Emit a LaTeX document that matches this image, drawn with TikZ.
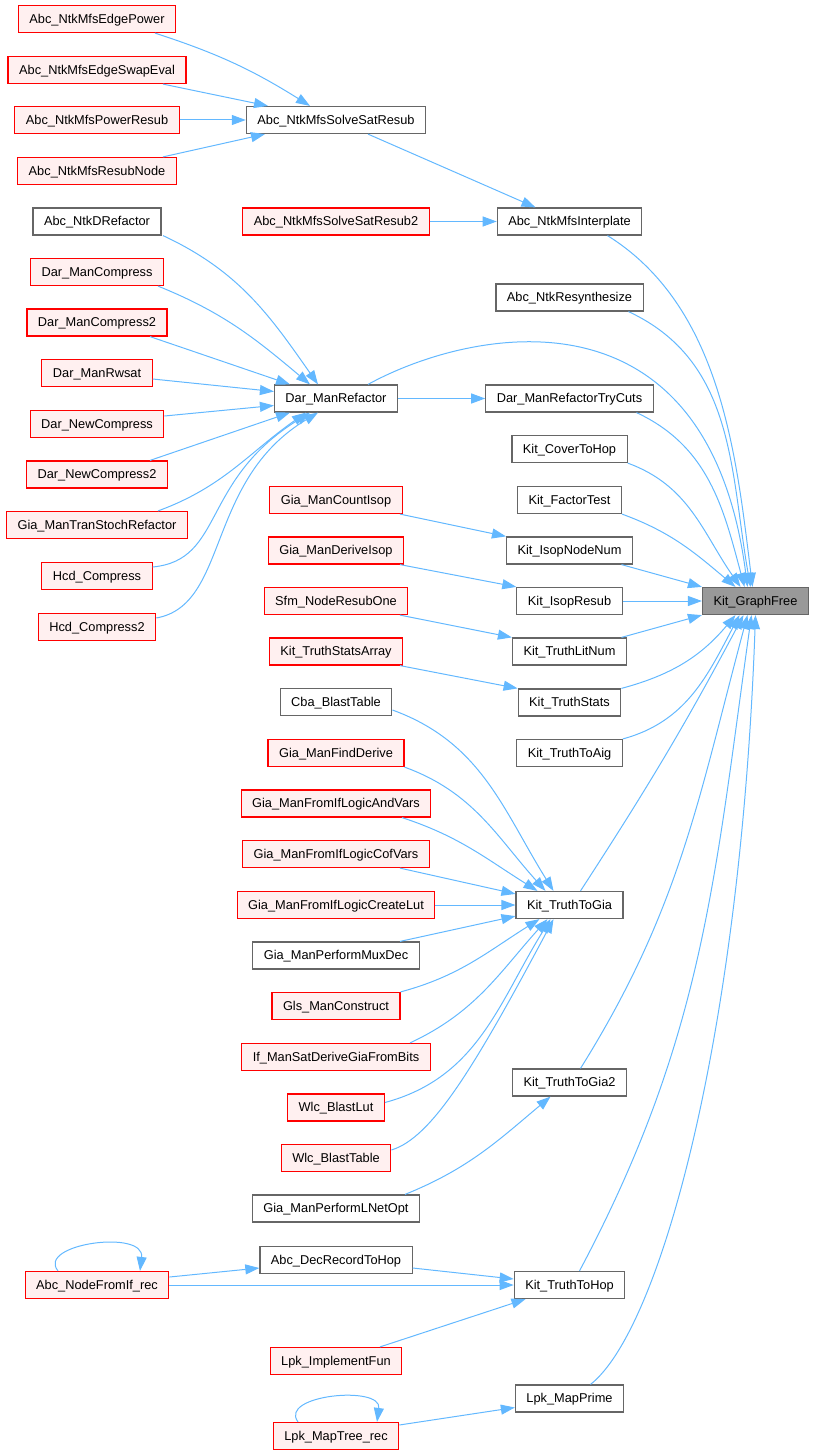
\documentclass[tikz,border=0pt]{standalone}
\usepackage{fontspec}
\setmainfont{Liberation Sans}
\usetikzlibrary{arrows.meta}
\definecolor{callblue}{HTML}{63B8FF}
\definecolor{boxgray}{HTML}{666666}
\definecolor{truncred}{HTML}{FF0000}
\definecolor{truncfill}{HTML}{FFF0F0}
\definecolor{rootfill}{HTML}{999999}
\tikzset{
  gnode/.style={draw=boxgray,line width=1.2pt,fill=white,minimum height=27pt,inner xsep=11pt,inner ysep=0pt,
    text height=9.2pt,text depth=0.6pt,font=\fontsize{12.8}{15}\selectfont},
  gred/.style={gnode,draw=truncred,fill=truncfill},
  groot/.style={gnode,fill=rootfill},
  gcall/.style={callblue,line width=1pt,-{Triangle[length=14pt,width=10pt]}},
}

\begin{document}
\begin{tikzpicture}[x=1pt,y=1pt]
\useasboundingbox (0,0) rectangle (814,-1455);
%% callers of Kit_GraphFree; three columns, px coordinates (y down = negative)
\node[groot] (gf) at (755.5,-601) {Kit\_GraphFree};
% ---- left column
\node[gred]  (ep)   at (97,-19)    {Abc\_NtkMfsEdgePower};
\node[gred]  (ese)  at (97,-70)    {Abc\_NtkMfsEdgeSwapEval};
\node[gred]  (pr)   at (97,-120)   {Abc\_NtkMfsPowerResub};
\node[gred]  (rn)   at (97,-171)   {Abc\_NtkMfsResubNode};
\node[gnode] (ndr)  at (97,-221.5) {Abc\_NtkDRefactor};
\node[gred]  (dmc)  at (97,-272)   {Dar\_ManCompress};
\node[gred]  (dmc2) at (97,-322.5) {Dar\_ManCompress2};
\node[gred]  (rws)  at (97,-373)   {Dar\_ManRwsat};
\node[gred]  (dnc)  at (97,-424)   {Dar\_NewCompress};
\node[gred]  (dnc2) at (97,-474.5) {Dar\_NewCompress2};
\node[gred]  (tsr)  at (97,-525)   {Gia\_ManTranStochRefactor};
\node[gred]  (hcd)  at (97,-576)   {Hcd\_Compress};
\node[gred]  (hcd2) at (97,-627)   {Hcd\_Compress2};
\node[gred]  (nfi)  at (97,-1285)  {Abc\_NodeFromIf\_rec};
% ---- middle column
\node[gnode] (sss)  at (336,-120)   {Abc\_NtkMfsSolveSatResub};
\node[gred]  (ssr2) at (336,-221.5) {Abc\_NtkMfsSolveSatResub2};
\node[gnode] (dmr)  at (336,-398.5) {Dar\_ManRefactor};
\node[gred]  (gci)  at (336,-500)   {Gia\_ManCountIsop};
\node[gred]  (gdi)  at (336,-550.5) {Gia\_ManDeriveIsop};
\node[gred]  (sfm)  at (336,-601)   {Sfm\_NodeResubOne};
\node[gred]  (tsa)  at (336,-651.5) {Kit\_TruthStatsArray};
\node[gnode] (cba)  at (336,-702)   {Cba\_BlastTable};
\node[gred]  (gfd)  at (336,-753)   {Gia\_ManFindDerive};
\node[gred]  (gav)  at (336,-803.5) {Gia\_ManFromIfLogicAndVars};
\node[gred]  (gcv)  at (336,-854)   {Gia\_ManFromIfLogicCofVars};
\node[gred]  (gcl)  at (336,-905)   {Gia\_ManFromIfLogicCreateLut};
\node[gnode] (gmd)  at (336,-955.5) {Gia\_ManPerformMuxDec};
\node[gred]  (gls)  at (336,-1006)  {Gls\_ManConstruct};
\node[gred]  (ifs)  at (336,-1057)  {If\_ManSatDeriveGiaFromBits};
\node[gred]  (wbl)  at (336,-1107.5){Wlc\_BlastLut};
\node[gred]  (wbt)  at (336,-1158)  {Wlc\_BlastTable};
\node[gnode] (gln)  at (336,-1208.5){Gia\_ManPerformLNetOpt};
\node[gnode] (drh)  at (336,-1260)  {Abc\_DecRecordToHop};
\node[gred]  (lif)  at (336,-1361)  {Lpk\_ImplementFun};
\node[gred]  (lmt)  at (336,-1436)  {Lpk\_MapTree\_rec};
% ---- right column
\node[gnode] (ip)   at (569.5,-221.5) {Abc\_NtkMfsInterplate};
\node[gnode] (rsy)  at (569.5,-297.5) {Abc\_NtkResynthesize};
\node[gnode] (tcu)  at (569.5,-398.5) {Dar\_ManRefactorTryCuts};
\node[gnode] (cth)  at (569.5,-449)   {Kit\_CoverToHop};
\node[gnode] (fts)  at (569.5,-500)   {Kit\_FactorTest};
\node[gnode] (inn)  at (569.5,-550.5) {Kit\_IsopNodeNum};
\node[gnode] (irs)  at (569.5,-601)   {Kit\_IsopResub};
\node[gnode] (tln)  at (569.5,-651.5) {Kit\_TruthLitNum};
\node[gnode] (tst)  at (569.5,-702.5) {Kit\_TruthStats};
\node[gnode] (taig) at (569.5,-753)   {Kit\_TruthToAig};
\node[gnode] (ttg)  at (569.5,-905)   {Kit\_TruthToGia};
\node[gnode] (ttg2) at (569.5,-1082.5){Kit\_TruthToGia2};
\node[gnode] (tth)  at (569.5,-1285)  {Kit\_TruthToHop};
\node[gnode] (lmp)  at (569.5,-1398.5){Lpk\_MapPrime};
% ---- mfs group
\draw[gcall] ([xshift=58]ep.south) to[out=-18,in=148] ([xshift=-26]sss.north);
\draw[gcall] ([xshift=66]ese.south) -- ([xshift=-68]sss.north);
\draw[gcall] (pr.east) -- (sss.west);
\draw[gcall] ([xshift=66]rn.north) -- ([xshift=-71]sss.south);
\draw[gcall] ([xshift=32]sss.south) -- ([xshift=-34]ip.north);
\draw[gcall] (ssr2.east) -- (ip.west);
% ---- into Dar_ManRefactor
\draw[gcall] ([xshift=66]ndr.south) to[out=-25,in=125] ([xshift=-18]dmr.north);
\draw[gcall] ([xshift=61]dmc.south) to[out=-22,in=140] ([xshift=-26]dmr.north);
\draw[gcall] ([xshift=53]dmc2.south) -- ([xshift=-46]dmr.north);
\draw[gcall] ([yshift=-6]rws.east) -- ([yshift=7]dmr.west);
\draw[gcall] ([yshift=8]dnc.east) -- ([yshift=-7]dmr.west);
\draw[gcall] ([xshift=53]dnc2.north) -- ([xshift=-46]dmr.south);
\draw[gcall] ([xshift=61]tsr.north) to[out=20,in=-145] ([xshift=-30]dmr.south);
\draw[gcall] ([yshift=9]hcd.east) .. controls +(72,7) and +(-110,-68) .. ([xshift=-26]dmr.south);
\draw[gcall] ([yshift=9]hcd2.east) .. controls +(73,13) and +(-113,-68) .. ([xshift=-18]dmr.south);
\draw[gcall] (dmr.east) -- (tcu.west);
% ---- small feeders
\draw[gcall] ([xshift=64]gci.south) -- (inn.north west);
\draw[gcall] ([xshift=64]gdi.south) -- (irs.north west);
\draw[gcall] ([xshift=64]sfm.south) -- (tln.north west);
\draw[gcall] ([xshift=64]tsa.south) -- (tst.north west);
% ---- into Kit_TruthToGia
\draw[gcall] ([yshift=-8]cba.east) to[out=-20,in=122] ([xshift=-16]ttg.north);
\draw[gcall] (gfd.south east) to[out=-20,in=132] ([xshift=-24]ttg.north);
\draw[gcall] ([xshift=66]gav.south) to[out=-18,in=148] ([xshift=-32]ttg.north);
\draw[gcall] ([xshift=64]gcv.south) -- ([yshift=-3]ttg.north west);
\draw[gcall] (gcl.east) -- (ttg.west);
\draw[gcall] ([xshift=64]gmd.north) -- ([yshift=3]ttg.south west);
\draw[gcall] (gls.north east) to[out=15,in=-148] ([xshift=-30]ttg.south);
\draw[gcall] ([xshift=74]ifs.north) to[out=25,in=-132] ([xshift=-22]ttg.south);
\draw[gcall] ([yshift=5]wbl.east) to[out=15,in=-122] ([xshift=-19]ttg.south);
\draw[gcall] ([yshift=8]wbt.east) .. controls +(40,12) and +(-80,-150) .. ([xshift=-16]ttg.south);
\draw[gcall] ([xshift=69]gln.north) to[out=22,in=-140] ([xshift=-19]ttg2.south);
% ---- hop group
\draw[gcall] ([xshift=-39]nfi.north) .. controls +(-22,27) and +(5,42) .. ([xshift=43]nfi.north);
\draw[gcall] ([yshift=8]nfi.east) -- ([yshift=-8]drh.west);
\draw[gcall] (nfi.east) -- (tth.west);
\draw[gcall] ([yshift=-8]drh.east) -- ([yshift=6]tth.west);
\draw[gcall] ([xshift=44]lif.north) -- ([xshift=-44]tth.south);
\draw[gcall] ([xshift=-38]lmt.north) .. controls +(-20,27) and +(5,37) .. ([xshift=41]lmt.north);
\draw[gcall] ([yshift=11]lmt.east) -- ([yshift=-9]lmp.west);
% ---- everything into Kit_GraphFree, from above
\draw[gcall] ([xshift=38]ip.south) to[out=-32,in=97,looseness=0.9] ([xshift=-3]gf.north);
\draw[gcall] ([xshift=59]rsy.south) to[out=-25,in=100] ([xshift=-5]gf.north);
\draw[gcall] ([xshift=32]dmr.north) .. controls +(100,55) and +(-40,310) .. ([xshift=-8]gf.north);
\draw[gcall] ([xshift=67]tcu.south) to[out=-25,in=105] ([xshift=-11]gf.north);
\draw[gcall] (cth.south east) to[out=-20,in=125] ([xshift=-15]gf.north);
\draw[gcall] (fts.south east) to[out=-20,in=140] ([xshift=-20]gf.north);
\draw[gcall] ([xshift=52]inn.south) -- (gf.north west);
\draw[gcall] (irs.east) -- (gf.west);
\draw[gcall] ([xshift=52]tln.north) -- (gf.south west);
% ---- and from below
\draw[gcall] (tst.north east) to[out=15,in=-130] ([xshift=-20]gf.south);
\draw[gcall] (taig.north east) to[out=15,in=-118] ([xshift=-16]gf.south);
\draw[gcall] ([xshift=11]ttg.north) to[out=57,in=-118] ([xshift=-12]gf.south);
\draw[gcall] ([xshift=11]ttg2.north) to[out=58,in=-105] ([xshift=-8]gf.south);
\draw[gcall] ([xshift=10]tth.north) to[out=62,in=-98] ([xshift=-4]gf.south);
\draw[gcall] ([xshift=21]lmp.north) .. controls +(70,55) and +(-15,-420) .. (gf.south);
\end{tikzpicture}
\end{document}
